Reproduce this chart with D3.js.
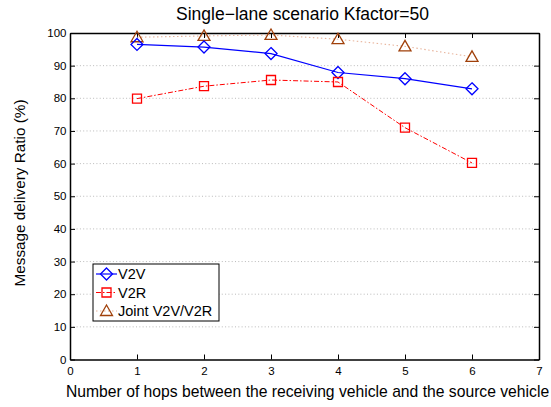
<!DOCTYPE html>
<html>
<head>
<meta charset="utf-8">
<script src="https://cdn.jsdelivr.net/npm/d3@7"></script>
<style>
  body { margin: 0; background: #fff; }
  svg { font-family: "Liberation Sans", Arial, sans-serif; }
</style>
</head>
<body>
<div id="chart"></div>
<script>
const hops = [1, 2, 3, 4, 5, 6];
const v2v = [96.5, 95.7, 93.7, 87.9, 86.0, 82.9];
const v2r = [79.9, 83.7, 85.6, 85.0, 71.0, 60.2];
const joint = [98.7, 99.1, 99.4, 98.1, 95.9, 92.7];
const xTicks = [0, 1, 2, 3, 4, 5, 6, 7];
const yTicks = [0, 10, 20, 30, 40, 50, 60, 70, 80, 90, 100];

const width = 551, height = 407;
const margin = { top: 33, right: 12, bottom: 47.5, left: 70 };
const innerWidth = width - margin.left - margin.right;
const innerHeight = height - margin.top - margin.bottom;

const svg = d3.select('#chart').append('svg').attr('width', width).attr('height', height);
const chart = svg.append('g').attr('transform', `translate(${margin.left},${margin.top})`);

const xScale = d3.scaleLinear().domain([0, 7]).range([0, innerWidth]);
const yScale = d3.scaleLinear().domain([0, 100]).range([innerHeight, 0]);

// horizontal grid
chart.append('g').selectAll('line').data(yTicks.slice(1, -1)).join('line')
  .attr('x1', 0).attr('x2', innerWidth)
  .attr('y1', d => yScale(d)).attr('y2', d => yScale(d))
  .attr('stroke', '#aaa').attr('stroke-width', 0.8).attr('stroke-dasharray', '1,2.3');

// axes (MATLAB style, inward ticks, box)
const xAxis = d3.axisBottom(xScale).tickValues(xTicks).tickFormat(d3.format('d')).tickSizeInner(-5).tickSizeOuter(0).tickPadding(7);
const yAxis = d3.axisLeft(yScale).tickValues(yTicks).tickFormat(d3.format('d')).tickSizeInner(-5).tickSizeOuter(0).tickPadding(3.5);
const xTop = d3.axisTop(xScale).tickValues(xTicks).tickSizeInner(-5).tickSizeOuter(0).tickFormat('');
const yRight = d3.axisRight(yScale).tickValues(yTicks).tickSizeInner(-5).tickSizeOuter(0).tickFormat('');

const gx = chart.append('g').attr('transform', `translate(0,${innerHeight})`).call(xAxis);
const gy = chart.append('g').call(yAxis);
const gt = chart.append('g').call(xTop);
const gr = chart.append('g').attr('transform', `translate(${innerWidth},0)`).call(yRight);
[gx, gy, gt, gr].forEach(g => {
  g.selectAll('path').attr('stroke', '#000').attr('stroke-width', 1.5);
  g.selectAll('line').attr('stroke', '#000').attr('stroke-width', 1);
  g.selectAll('text').attr('font-size', 11.5).attr('fill', '#000').attr('font-family', '"Liberation Sans", Arial, sans-serif');
});

const line = d3.line().x((d, i) => xScale(hops[i])).y(d => yScale(d));

// Joint series
chart.append('path').datum(joint).attr('d', line).attr('fill', 'none')
  .attr('stroke', '#e8b49c').attr('stroke-width', 1.1).attr('stroke-dasharray', '1.5,2.5');
// V2V series
chart.append('path').datum(v2v).attr('d', line).attr('fill', 'none')
  .attr('stroke', '#0000ff').attr('stroke-width', 1.2);
// V2R series
chart.append('path').datum(v2r).attr('d', line).attr('fill', 'none')
  .attr('stroke', '#ff0000').attr('stroke-width', 1).attr('stroke-dasharray', '5,2,1.5,2');

const diamond = 'M0,-6L6,0L0,6L-6,0Z';
const square = 'M-4.5,-4.5H4.5V4.5H-4.5Z';
const triangle = 'M0,-6L6,4.5H-6Z';

function markers(data, shape, color) {
  chart.append('g').selectAll('path').data(data).join('path')
    .attr('d', shape)
    .attr('transform', (d, i) => `translate(${xScale(hops[i])},${yScale(d)})`)
    .attr('fill', 'none').attr('stroke', color).attr('stroke-width', 1.3);
}
markers(joint, triangle, '#a0400a');
markers(v2v, diamond, '#0000ff');
markers(v2r, square, '#ff0000');

// legend
const leg = svg.append('g').attr('transform', 'translate(93,264)');
leg.append('rect').attr('width', 126).attr('height', 57).attr('fill', '#fff')
  .attr('stroke', '#000').attr('stroke-width', 1);
const legItems = [
  { name: 'V2V', color: '#0000ff', marker: diamond, mcolor: '#0000ff', dash: null },
  { name: 'V2R', color: '#ff0000', marker: square, mcolor: '#ff0000', dash: '5,2,1.5,2' },
  { name: 'Joint V2V/V2R', color: '#e8b49c', marker: triangle, mcolor: '#a0400a', dash: '1.5,2.5' }
];
legItems.forEach((it, i) => {
  const y = 10 + i * 18.5;
  leg.append('line').attr('x1', 3).attr('x2', 24).attr('y1', y).attr('y2', y)
    .attr('stroke', it.color).attr('stroke-width', 1.2).attr('stroke-dasharray', it.dash);
  leg.append('path').attr('d', it.marker).attr('transform', `translate(13.5,${y})`)
    .attr('fill', 'none').attr('stroke', it.mcolor).attr('stroke-width', 1.3);
  leg.append('text').attr('x', 25).attr('y', y + 5).attr('font-size', 14.5).text(it.name);
});

// title and labels
svg.append('text').attr('x', 302.5).attr('y', 20)
  .attr('text-anchor', 'middle').attr('font-size', 17.5).text('Single\u2212lane scenario Kfactor=50');
svg.append('text').attr('x', 66).attr('y', 397)
  .attr('text-anchor', 'start').attr('font-size', 15.7)
  .text('Number of hops between the receiving vehicle and the source vehicle');
svg.append('text').attr('transform', `translate(25,193) rotate(-90)`)
  .attr('text-anchor', 'middle').attr('font-size', 15.3).text('Message delivery Ratio (%)');
</script>
</body>
</html>
